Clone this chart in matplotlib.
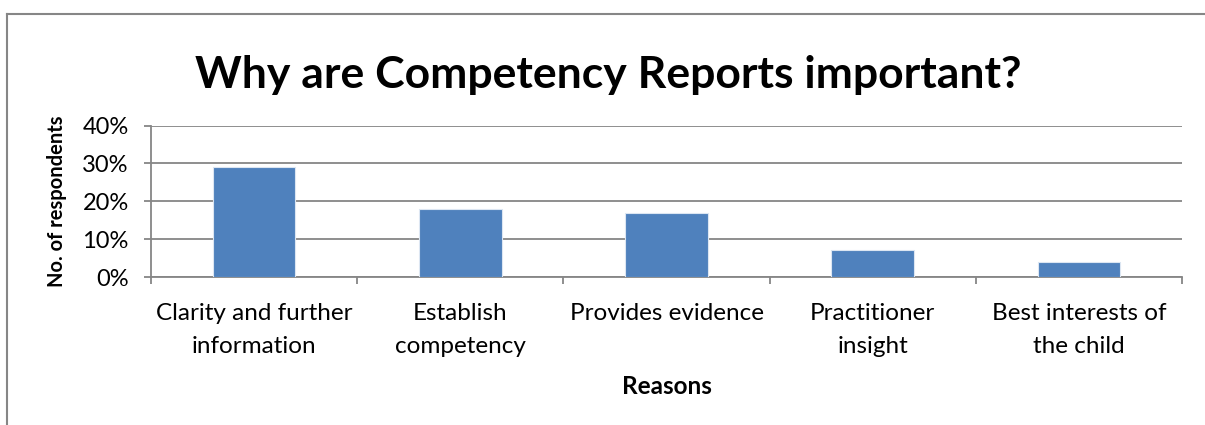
import matplotlib
matplotlib.use("Agg")
import matplotlib.pyplot as plt
import numpy as np
from matplotlib.lines import Line2D
from matplotlib.ticker import PercentFormatter, FixedLocator

reasons = ["Clarity and further\ninformation", "Establish\ncompetency",
           "Provides evidence", "Practitioner\ninsight",
           "Best interests of\nthe child"]
shares = [29, 18, 17, 7, 4]
y_ticks = [0, 10, 20, 30, 40]

plt.rcParams['font.family'] = ['Lato', 'DejaVu Sans']

fig = plt.figure(figsize=(12.05, 4.25), dpi=100)
# outer chart border (only top and left edges show in the crop)
border_y = (425 - 13.5) / 425
border_x = 7 / 1205
fig.add_artist(Line2D([border_x, 1.0], [border_y, border_y],
                      transform=fig.transFigure, color="#868686", linewidth=1.5))
fig.add_artist(Line2D([border_x, border_x], [0.0, border_y],
                      transform=fig.transFigure, color="#868686", linewidth=1.5))

ax = fig.add_axes([151 / 1205, 148 / 425, 1031 / 1205, 151.5 / 425])
x = np.arange(len(reasons))
ax.bar(x, shares, width=0.4, color="#4F81BD", edgecolor="#DCE6F2",
       linewidth=0.8, zorder=3)

ax.set_xlim(-0.5, len(reasons) - 0.5)
ax.set_ylim(0, 40)
ax.set_yticks(y_ticks)
ax.yaxis.set_major_formatter(PercentFormatter(decimals=0))
ax.grid(axis="y", color="#868686", linewidth=1.3, zorder=0)

ax.set_xticks(x)
ax.set_xticklabels(reasons, fontsize=17.5, linespacing=1.72)
ax.tick_params(axis="x", length=0, pad=18.5)
ax.xaxis.set_minor_locator(FixedLocator(np.arange(-0.5, len(reasons), 1.0)))
ax.tick_params(axis="x", which="minor", length=5, color="#868686", width=1.3)
ax.tick_params(axis="y", length=5, color="#868686", width=1.3,
               labelsize=17, pad=11)

for side in ["top", "right"]:
    ax.spines[side].set_visible(False)
ax.spines["left"].set_color("#868686")
ax.spines["left"].set_linewidth(1.3)
ax.spines["bottom"].set_color("#868686")
ax.spines["bottom"].set_linewidth(1.3)

ax.set_ylabel("No. of respondents", fontsize=14.5, fontweight="bold", labelpad=11)
ax.set_xlabel("Reasons", fontsize=17.5, fontweight="bold", labelpad=13)

fig.text(0.505, (425 - 75) / 425, "Why are Competency Reports important?",
         ha="center", va="center", fontsize=32, fontweight="bold")

fig.savefig("out.png", dpi=100)
